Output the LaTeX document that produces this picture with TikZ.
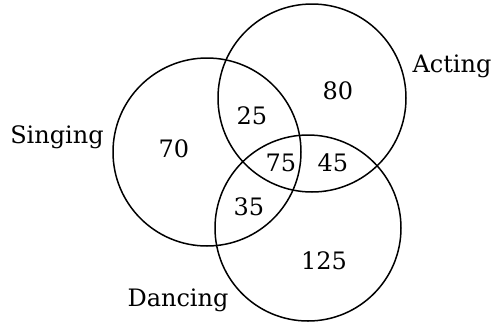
\documentclass[tikz,border=0pt]{standalone}
\usepackage{fontspec}
\setmainfont{DejaVu Serif}
\usepackage{tikz}
\usetikzlibrary{positioning}

\begin{document}
\begin{tikzpicture}[
            x=1pt, y=-1pt,
            setcirc/.style={draw=black, line width=1.5pt, circle, minimum size=188pt, inner sep=0pt},
            setlab/.style={font=\fontsize{24}{28}\selectfont},
            num/.style={font=\fontsize{24}{28}\selectfont}
        ]
        \useasboundingbox (0,0) rectangle (496,325);

        % circles
        \node[setcirc] (singing) at (207,152) {};
        \node[setcirc] (acting) at (312,98) {};
        \node[setcirc, minimum size=186pt] (dancing) at (308,228) {};

        % set names
        \node[setlab] (singlab) at (57,137) {Singing};
        \node[setlab] (actlab) at (452,66) {Acting};
        \node[setlab] (danclab) at (178,300) {Dancing};

        % counts
        \node[num] (s) at (174,149) {70};
        \node[num] (a) at (338,91) {80};
        \node[num] (d) at (324,261) {125};
        \node[num] (sa) at (252,116) {25};
        \node[num] (sd) at (249,207) {35};
        \node[num] (ad) at (333,163) {45};
        \node[num] (sad) at (281,163) {75};

    \end{tikzpicture}
\end{document}
